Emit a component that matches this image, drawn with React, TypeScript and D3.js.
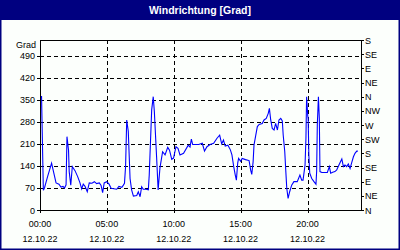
import React from "react";
import * as d3 from "d3";

// time in minutes since 00:00 on 12.10.22, wind direction in degrees
const minutes = [
  0, 7, 9, 15, 20, 34, 52, 58, 72, 85, 94, 103, 110, 117, 121, 128, 131, 138, 145, 157,
  169, 179, 187, 194, 202, 212, 221, 233, 244, 254, 266, 274, 281, 288, 299, 310, 319, 344, 354, 367,
  374, 379, 384, 389, 396, 404, 411, 419, 434, 441, 449, 456, 463, 476, 486, 490, 501, 508, 513, 523,
  530, 538, 550, 561, 573, 581, 591, 599, 610, 619, 628, 644, 665, 673, 679, 685, 697, 712, 728, 738,
  749, 763, 779, 794, 806, 815, 823, 831, 843, 854, 861, 869, 876, 881, 887, 891, 900, 907, 922, 938,
  945, 950, 956, 960, 968, 975, 983, 997, 1005, 1015, 1024, 1029, 1035, 1042, 1050, 1057, 1065, 1072, 1080, 1087,
  1091, 1098, 1102, 1107, 1113, 1120, 1129, 1139, 1154, 1166, 1174, 1180, 1189, 1193, 1196, 1201, 1203, 1206, 1210, 1219,
  1229, 1238, 1241, 1244, 1249, 1253, 1256, 1264, 1271, 1289, 1298, 1304, 1313, 1323, 1331, 1341, 1354, 1361, 1368, 1376,
  1383, 1391, 1398, 1406, 1413, 1421, 1426,
];
const degrees = [
  360, 360, 285, 63, 70, 106, 149, 130, 86, 82, 73, 75, 70, 80, 233, 190, 122, 79, 138, 125,
  106, 87, 67, 82, 75, 58, 86, 85, 90, 84, 86, 78, 55, 86, 90, 82, 69, 66, 75, 72,
  79, 85, 140, 286, 250, 100, 64, 44, 46, 58, 42, 74, 66, 66, 64, 111, 318, 360, 312, 169,
  64, 133, 185, 175, 199, 190, 161, 165, 201, 196, 175, 180, 206, 200, 225, 208, 208, 208, 212, 187,
  201, 208, 212, 228, 238, 210, 222, 203, 206, 191, 175, 138, 111, 95, 150, 164, 155, 164, 160, 157,
  127, 113, 153, 206, 238, 265, 272, 275, 286, 291, 307, 323, 286, 259, 254, 275, 254, 286, 291, 283,
  238, 185, 132, 69, 37, 58, 79, 90, 90, 111, 95, 95, 143, 228, 360, 300, 290, 175, 117, 100,
  90, 82, 122, 270, 360, 291, 122, 119, 119, 119, 138, 117, 120, 122, 127, 143, 162, 138, 143, 138,
  146, 132, 150, 169, 180, 187, 187,
];

const leftTicks = [0, 70, 140, 210, 280, 350, 420, 490];
const compassLabels = ["N", "NE", "E", "SE", "S", "SW", "W", "NW", "N", "NE", "E", "SE", "S"];
const timeTicks = [0, 300, 600, 900, 1200];
const timeLabels = ["00:00", "05:00", "10:00", "15:00", "20:00"];
const dateLabel = "12.10.22";
const title = "Windrichtung [Grad]";
const unit = "Grad";

export default function App() {
  const W = 400;
  const H = 250;
  const x = d3.scaleLinear().domain([0, 1440]).range([40, 361]);
  const y = d3.scaleLinear().domain([0, 540]).range([210, 40]);
  const line = d3
    .line<number>()
    .x((_, i) => x(minutes[i]))
    .y((d) => y(d));
  const font = "'Liberation Sans', Arial, sans-serif";
  const px = (v: number) => Math.round(v) + 0.5;

  return (
    <svg
      width={W}
      height={H}
      style={{ position: "fixed", left: 0, top: 0 }}
      fontFamily={font}
    >
      <rect x={0} y={0} width={W} height={H} fill="#fcfffc" />
      <rect x={0} y={0} width={W} height={20} fill="#000080" />
      <rect x={0.75} y={0.75} width={W - 1.5} height={H - 1.5} fill="none" stroke="#000080" strokeWidth={1.5} />
      <text x={200} y={14} textAnchor="middle" fill="#fff" fontWeight="bold" fontSize={10.5}>
        {title}
      </text>

      {/* horizontal grid */}
      {leftTicks.slice(1).map((t) => (
        <line key={"h" + t} x1={40} x2={361} y1={px(y(t))} y2={px(y(t))} stroke="#000" strokeDasharray="4,3" shapeRendering="crispEdges" />
      ))}
      {/* vertical grid */}
      {timeTicks.slice(1).map((t) => (
        <line key={"v" + t} x1={px(x(t))} x2={px(x(t))} y1={40} y2={210} stroke="#000" strokeDasharray="4,3" shapeRendering="crispEdges" />
      ))}

      {/* data line */}
      <path d={line(degrees) || ""} fill="none" stroke="#0000ff" strokeWidth={1.1} />

      {/* frame */}
      <line x1={40} x2={361} y1={40.5} y2={40.5} stroke="#000" shapeRendering="crispEdges" />
      <line x1={40} x2={362} y1={210.5} y2={210.5} stroke="#000" shapeRendering="crispEdges" />
      <line x1={40.5} x2={40.5} y1={40} y2={211} stroke="#000" shapeRendering="crispEdges" />
      <line x1={361.5} x2={361.5} y1={40} y2={211} stroke="#000" shapeRendering="crispEdges" />

      {/* left axis */}
      {leftTicks.map((t) => (
        <g key={"l" + t}>
          <line x1={37} x2={40} y1={px(y(t))} y2={px(y(t))} stroke="#000" shapeRendering="crispEdges" />
          <text x={35} y={y(t) + 3.5} textAnchor="end" fontSize={9}>
            {t}
          </text>
        </g>
      ))}
      <text x={36} y={48} textAnchor="end" fontSize={9}>
        {unit}
      </text>

      {/* right axis */}
      {compassLabels.map((c, i) => (
        <g key={"r" + i}>
          <line x1={361} x2={364} y1={px(y(i * 45))} y2={px(y(i * 45))} stroke="#000" shapeRendering="crispEdges" />
          <text x={365} y={y(i * 45) + 3.5} fontSize={9}>
            {c}
          </text>
        </g>
      ))}

      {/* bottom axis */}
      {timeTicks.map((t, i) => (
        <g key={"b" + t}>
          <line x1={px(x(t))} x2={px(x(t))} y1={210} y2={213} stroke="#000" shapeRendering="crispEdges" />
          <text x={x(t)} y={227} textAnchor="middle" fontSize={9}>
            {timeLabels[i]}
          </text>
          <text x={x(t)} y={242} textAnchor="middle" fontSize={9}>
            {dateLabel}
          </text>
        </g>
      ))}
    </svg>
  );
}
